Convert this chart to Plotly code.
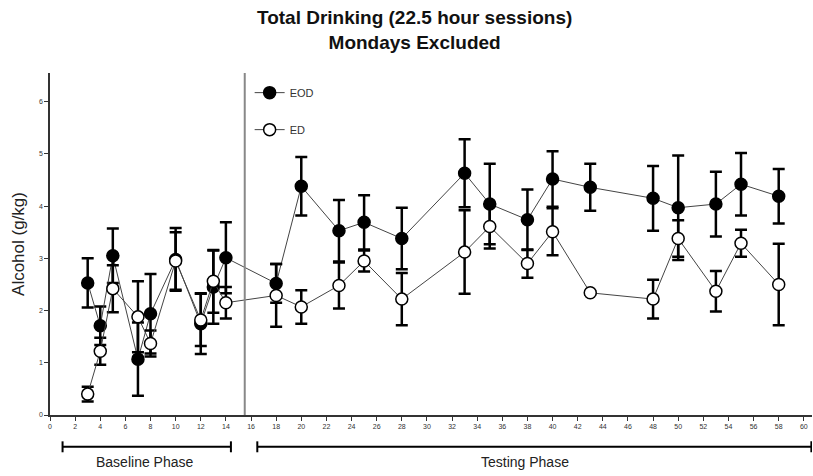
import plotly.graph_objects as go

# ---- data ----
sessions = [3, 4, 5, 7, 8, 10, 12, 13, 14, 18, 20, 23, 25, 28, 33, 35, 38, 40, 43, 48, 50, 53, 55, 58]
eod = [2.53, 1.71, 3.05, 1.07, 1.94, 2.98, 1.75, 2.45, 3.01, 2.52, 4.38, 3.53, 3.69, 3.38,
       4.63, 4.04, 3.74, 4.52, 4.36, 4.15, 3.97, 4.04, 4.42, 4.19]
eod_sem = [0.47, 0.37, 0.52, 0.70, 0.76, 0.60, 0.58, 0.70, 0.68, 0.37, 0.56, 0.59, 0.52, 0.59,
           0.65, 0.77, 0.58, 0.53, 0.45, 0.62, 1.00, 0.62, 0.60, 0.52]
ed = [0.40, 1.22, 2.42, 1.88, 1.37, 2.95, 1.82, 2.56, 2.15, 2.29, 2.07, 2.48, 2.95, 2.22,
      3.12, 3.61, 2.90, 3.51, 2.34, 2.22, 3.38, 2.37, 3.29, 2.50]
ed_sem = [0.14, 0.26, 0.45, 0.68, 0.25, 0.55, 0.50, 0.60, 0.30, 0.60, 0.32, 0.44, 0.20, 0.50,
          0.80, 0.42, 0.27, 0.45, 0.03, 0.37, 0.35, 0.39, 0.26, 0.78]
x_ticks = list(range(0, 61, 2))
y_ticks = [0, 1, 2, 3, 4, 5, 6]
phase_split = 15.5
# (label, start session, end session, label centre)
phases = [("Baseline Phase", 1.0, 14.4, 7.6), ("Testing Phase", 16.5, 60.6, 37.8)]

fig = go.Figure()
fig.add_trace(go.Scatter(
    x=sessions, y=eod, name="EOD", mode="lines+markers", legendgroup="a",
    line=dict(color="#444444", width=1),
    marker=dict(symbol="circle", size=12, color="black", line=dict(color="black", width=1.5)),
    error_y=dict(type="data", array=eod_sem, visible=True, color="black", thickness=2.5, width=6),
))
fig.add_trace(go.Scatter(
    x=sessions, y=ed, name="ED", mode="lines+markers", legendgroup="b",
    line=dict(color="#444444", width=1),
    marker=dict(symbol="circle", size=12, color="white", line=dict(color="black", width=1.5)),
    error_y=dict(type="data", array=ed_sem, visible=True, color="black", thickness=2.5, width=6),
))

# phase divider
fig.add_shape(type="line", xref="x", yref="paper", x0=phase_split, x1=phase_split, y0=0, y1=1,
              line=dict(color="#888888", width=2))

# phase brackets
yb = -0.093
cap = 0.016
for label, a, b, c in phases:
    fig.add_shape(type="line", xref="x", yref="paper", x0=a, x1=b, y0=yb, y1=yb,
                  line=dict(color="black", width=2))
    for xx in (a, b):
        fig.add_shape(type="line", xref="x", yref="paper", x0=xx, x1=xx, y0=yb - cap, y1=yb + cap,
                      line=dict(color="black", width=2))
    fig.add_annotation(x=c, y=yb - 0.045, xref="x", yref="paper", text=label, showarrow=False,
                       yanchor="middle", font=dict(size=14, color="#222222", family="Liberation Sans, Arial"))

fig.update_layout(
    width=813, height=476,
    margin=dict(l=50, r=1, t=73, b=61),
    paper_bgcolor="white", plot_bgcolor="white",
    title=dict(text="<b>Total Drinking (22.5 hour sessions)<br>Mondays Excluded</b>",
               x=0.51, xanchor="center", y=0.949, yanchor="middle",
               font=dict(size=19, color="#111111", family="Liberation Sans, Arial")),
    font=dict(family="Liberation Sans, Arial", color="#222222"),
    showlegend=True,
    legend=dict(x=0.262, y=0.985, xanchor="left", yanchor="top", bgcolor="rgba(0,0,0,0)",
                tracegroupgap=18, traceorder="grouped", itemwidth=30,
                font=dict(size=11, color="#333333")),
    xaxis=dict(range=[0, 60.65], tickvals=x_ticks, ticktext=[str(v) for v in x_ticks],
               showgrid=False, zeroline=False, showline=True, linecolor="#333333", linewidth=1.5,
               ticks="outside", ticklen=4, tickcolor="#333333", tickfont=dict(size=7, color="#333333")),
    yaxis=dict(range=[0, 6.55], tickvals=y_ticks, showgrid=False, zeroline=False, showline=True,
               linecolor="#333333", linewidth=1.5, ticks="outside", ticklen=4, tickcolor="#333333",
               tickfont=dict(size=7, color="#333333"),
               title=dict(text="Alcohol (g/kg)", font=dict(size=17, color="#222222"), standoff=10)),
)

fig.write_html("out.html")
